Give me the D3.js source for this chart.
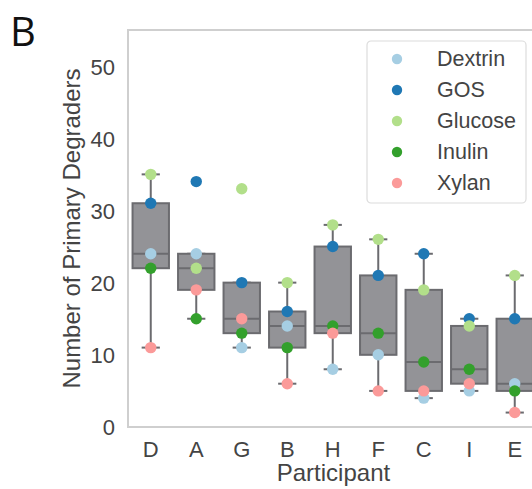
<!DOCTYPE html>
<html>
<head>
  <meta http-equiv="content-type" content="text/html; charset=UTF-8">
  <script type="text/javascript" src="https://cdn.jsdelivr.net/npm/d3@7/dist/d3.min.js"></script>
</head>
<body style="margin:0; background:#fff;">

<style>
  text {
    font-family: "Liberation Sans", Arial, sans-serif;
    fill: #444;
  }
</style>

<script type="text/javascript">
  // participants in plotted order
  var participants = ["D", "A", "G", "B", "H", "F", "C", "I", "E"];
  var substrates = ["Dextrin", "GOS", "Glucose", "Inulin", "Xylan"];
  var colors = ["#a6cee3", "#1f78b4", "#b2df8a", "#33a02c", "#fb9a99"];

  // number of primary degraders per substrate, one value per participant
  var dextrin = [24, 24, 11, 14, 8, 10, 4, 5, 6];
  var gos     = [31, 34, 20, 16, 25, 21, 24, 15, 15];
  var glucose = [35, 22, 33, 20, 28, 26, 19, 14, 21];
  var inulin  = [22, 15, 13, 11, 14, 13, 9, 8, 5];
  var xylan   = [11, 19, 15, 6, 13, 5, 5, 6, 2];

  var yTicks = [0, 10, 20, 30, 40, 50];

  var seriesValues = [dextrin, gos, glucose, inulin, xylan];

  var width = 532,
    height = 489,
    plotLeft = 128,
    plotTop = 30,
    plotBottom = 427,
    step = 45.5;

  var svg = d3.select("body").append("svg")
    .attr("width", width)
    .attr("height", height);

  var x = d3.scaleBand()
    .domain(participants)
    .range([plotLeft, plotLeft + step * participants.length])
    .paddingInner(0.2)
    .paddingOuter(0.1);

  var y = d3.scaleLinear()
    .domain([0, 55])
    .range([plotBottom, plotTop]);

  var color = d3.scaleOrdinal().domain(substrates).range(colors);

  // frame
  svg.append("rect")
    .attr("x", plotLeft)
    .attr("y", plotTop)
    .attr("width", step * participants.length)
    .attr("height", plotBottom - plotTop)
    .style("fill", "none")
    .style("stroke", "#cfcfcf")
    .style("stroke-width", 2);

  // box statistics per participant
  var boxes = participants.map(function (p, i) {
    var vals = seriesValues.map(function (s) { return s[i]; }).sort(d3.ascending);
    var q1 = d3.quantile(vals, 0.25),
      med = d3.quantile(vals, 0.5),
      q3 = d3.quantile(vals, 0.75),
      iqr = q3 - q1;
    var inside = vals.filter(function (v) { return v >= q1 - 1.5 * iqr && v <= q3 + 1.5 * iqr; });
    return {p: p, q1: q1, med: med, q3: q3, lo: d3.min(inside), hi: d3.max(inside)};
  });

  var bw = x.bandwidth();
  var node = svg.selectAll(".box")
    .data(boxes)
    .enter().append("g")
    .attr("class", "box")
    .attr("transform", function (d) {
      return "translate(" + (x(d.p) + bw / 2) + ",0)";
    });

  var edge = "#6b6b6f";

  node.append("line")
    .attr("x1", 0).attr("x2", 0)
    .attr("y1", function (d) { return y(d.lo); })
    .attr("y2", function (d) { return y(d.q1); })
    .style("stroke", edge).style("stroke-width", 2);
  node.append("line")
    .attr("x1", 0).attr("x2", 0)
    .attr("y1", function (d) { return y(d.q3); })
    .attr("y2", function (d) { return y(d.hi); })
    .style("stroke", edge).style("stroke-width", 2);
  node.append("line")
    .attr("x1", -bw / 4).attr("x2", bw / 4)
    .attr("y1", function (d) { return y(d.lo); })
    .attr("y2", function (d) { return y(d.lo); })
    .style("stroke", edge).style("stroke-width", 2);
  node.append("line")
    .attr("x1", -bw / 4).attr("x2", bw / 4)
    .attr("y1", function (d) { return y(d.hi); })
    .attr("y2", function (d) { return y(d.hi); })
    .style("stroke", edge).style("stroke-width", 2);

  node.append("rect")
    .attr("x", -bw / 2)
    .attr("width", bw)
    .attr("y", function (d) { return y(d.q3); })
    .attr("height", function (d) { return y(d.q1) - y(d.q3); })
    .style("fill", "#939397")
    .style("stroke", edge)
    .style("stroke-width", 2);

  node.append("line")
    .attr("x1", -bw / 2).attr("x2", bw / 2)
    .attr("y1", function (d) { return y(d.med); })
    .attr("y2", function (d) { return y(d.med); })
    .style("stroke", edge).style("stroke-width", 2);

  // points
  substrates.forEach(function (s, k) {
    svg.selectAll(".pt" + k)
      .data(seriesValues[k])
      .enter().append("circle")
      .attr("cx", function (d, i) { return x(participants[i]) + bw / 2; })
      .attr("cy", function (d) { return y(d); })
      .attr("r", 5.7)
      .style("fill", color(s));
  });

  // axes
  var yAxis = svg.append("g")
    .attr("transform", "translate(" + plotLeft + ",0)")
    .call(d3.axisLeft(y).tickValues(yTicks).tickSize(0).tickPadding(13));
  var xAxis = svg.append("g")
    .attr("transform", "translate(0," + plotBottom + ")")
    .call(d3.axisBottom(x).tickSize(0).tickPadding(14));
  [yAxis, xAxis].forEach(function (a) {
    a.select(".domain").remove();
    a.selectAll("text").style("font-size", "22px").style("fill", "#444");
  });
  xAxis.selectAll("text").attr("dy", "0.71em");
  yAxis.selectAll("text").attr("dy", "0.36em");

  svg.append("text")
    .attr("x", (x.range()[0] + x.range()[1]) / 2 + 0.7)
    .attr("y", 481)
    .style("text-anchor", "middle")
    .style("font-size", "24px")
    .text("Participant");

  svg.append("text")
    .attr("transform", "translate(80," + ((plotTop + plotBottom) / 2) + ") rotate(-90)")
    .style("text-anchor", "middle")
    .style("font-size", "24px")
    .text("Number of Primary Degraders");

  // panel letter
  svg.append("text")
    .attr("x", 10)
    .attr("y", 46)
    .style("font-size", "40px")
    .style("fill", "#111")
    .style("font-family", "'Open Sans', 'DejaVu Sans', sans-serif")
    .text("B");

  // legend
  var legend = svg.append("g").attr("transform", "translate(367,41)");
  legend.append("rect")
    .attr("width", 159)
    .attr("height", 162)
    .attr("rx", 4)
    .style("fill", "#fff")
    .style("stroke", "#dcdcdc")
    .style("stroke-width", 1.2);
  var item = legend.selectAll(".item")
    .data(substrates)
    .enter().append("g")
    .attr("class", "item")
    .attr("transform", function (d, i) { return "translate(0," + (18 + i * 31) + ")"; });
  item.append("circle")
    .attr("cx", 30)
    .attr("r", 5.2)
    .style("fill", function (d) { return color(d); });
  item.append("text")
    .attr("x", 70)
    .attr("y", -1)
    .attr("dy", "0.36em")
    .style("font-size", "21.5px")
    .text(function (d) { return d; });
</script>
</body>
</html>
